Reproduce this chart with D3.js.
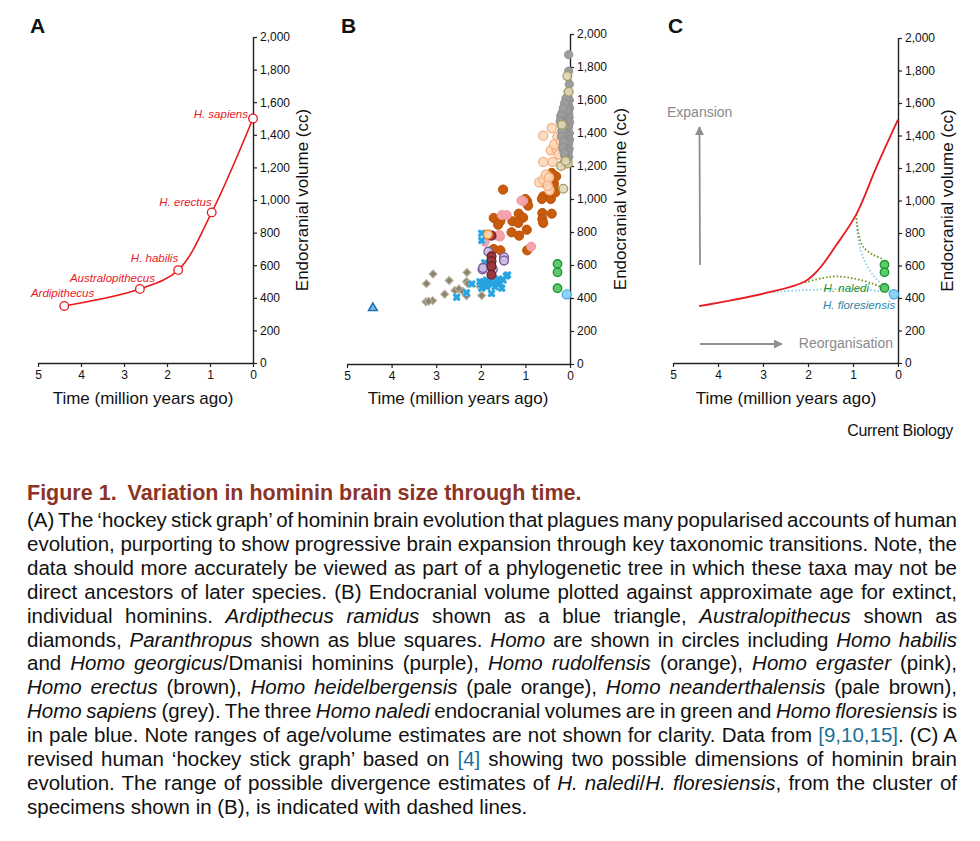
<!DOCTYPE html>
<html><head><meta charset="utf-8">
<script src="https://cdn.jsdelivr.net/npm/d3@7"></script>
<style>
html,body{margin:0;padding:0;background:#fff;}
svg text{font-family:"Liberation Sans",Arial,Helvetica,sans-serif;}
</style></head>
<body>
<script>
// ---------------- DATA ----------------
const xTicks = [5,4,3,2,1,0];
const yTicks = [0,200,400,600,800,1000,1200,1400,1600,1800,2000];

// Panel A: hockey stick (time Ma, volume cc)
const aTaxa   = ["Ardipithecus","Australopithecus","H. habilis","H. erectus","H. sapiens"];
const aTime   = [4.39, 2.63, 1.74, 0.96, 0];
const aVolume = [350, 454, 570, 924, 1500];

// Panel B: individual specimens [time Ma, volume cc]
const ardipithecus = [[4.42,345]];
const australopithecus = [[3.22,487],[3.07,545],[2.71,506],[2.31,555],[2.32,500],[2.81,423],[3.23,377],[3.08,384],[3.17,380],[2.58,445],[2.49,454],[2.32,413],[1.98,415],[2.02,470],[2.29,487],[2.40,440]];
const paranthropus = [[1.98,792],[1.98,748],[1.91,614],[1.92,592],[2.02,499],[1.94,499],[1.87,509],[1.79,499],[1.72,489],[1.64,499],[1.57,489],[1.50,509],[1.43,533],[1.53,459],[1.76,428],[1.98,459],[2.20,485],[2.54,404],[2.32,432],[1.87,468],[1.68,468],[1.40,540],[1.84,482],[1.95,480],[1.60,515]];
const erectus = [[1.50,1057],[0.96,986],[0.94,960],[0.60,1016],[0.43,1000],[0.62,915],[0.41,911],[0.62,879],[0.60,855],[1.71,885],[1.56,867],[1.29,865],[1.15,911],[1.05,887],[1.16,855],[1.61,844],[0.97,814],[1.31,798],[1.14,778],[1.71,697],[1.56,689],[0.96,689],[0.36,1061],[0.36,1093],[0.56,1097],[0.31,1137],[0.41,1158],[0.45,1107],[0.33,1040],[0.38,1075],[1.00,1000],[0.63,1000]];
const heidelbergensis = [[0.60,1384],[0.41,1430],[0.28,1376],[0.43,1295],[0.22,1320],[0.60,1225],[0.39,1225],[0.69,1101],[0.60,1117],[0.54,1147],[0.47,1130],[0.16,1208],[0.46,1053],[0.30,1300],[0.25,1270],[0.35,1330],[0.50,1080],[0.20,1350]];
const neanderthalensis = [[0.06,1745],[0.03,1650],[0.18,1450],[0.20,1200],[0.15,1062],[0.05,1215],[0.10,1230]];
const sapiens = [[0.03,1875],[0.03,1775],[0.015,1695],[0.05,1620],[0.02,1600],[0.08,1590],[0.04,1570],[0.10,1560],[0.01,1550],[0.06,1540],[0.12,1530],[0.03,1520],[0.08,1510],[0.14,1500],[0.02,1495],[0.05,1485],[0.10,1480],[0.17,1475],[0.01,1465],[0.07,1460],[0.12,1455],[0.20,1450],[0.03,1440],[0.09,1435],[0.15,1430],[0.05,1420],[0.11,1415],[0.18,1410],[0.02,1400],[0.07,1395],[0.13,1390],[0.04,1380],[0.10,1375],[0.16,1370],[0.01,1360],[0.06,1355],[0.12,1350],[0.03,1340],[0.09,1335],[0.15,1330],[0.05,1320],[0.11,1315],[0.02,1305],[0.08,1300],[0.14,1295],[0.04,1285],[0.10,1280],[0.06,1270],[0.12,1265],[0.03,1255],[0.09,1250],[0.07,1240],[0.05,1230],[0.11,1225],[0.08,1215],[0.06,1575],[0.09,1610],[0.12,1580],[0.04,1650],[0.07,1540],[0.21,1500],[0.22,1470],[0.18,1520],[0.15,1550],[0.13,1440],[0.17,1420],[0.19,1380],[0.14,1350],[0.16,1310],[0.13,1280]];
const ergaster = [[1.05,988],[1.53,903],[1.42,903],[1.57,772],[1.62,778],[0.87,711],[1.58,782],[1.91,741],[1.09,990]];
const habilisPurple = [[1.83,681],[1.48,647],[1.48,627],[1.96,574],[1.73,574],[1.95,582]];
const habilisDark = [[1.76,778],[1.76,652],[1.76,622],[1.76,592],[1.76,541]];
const rudolfensis = [[1.84,785]];
const naledi = [[0.28,606],[0.28,556],[0.28,459]];
const floresiensis = [[0.075,422]];

// Panel C
const cRedLine = [[4.42,350],[2.93,431],[2.07,502],[1.75,580],[1.39,718],[0.93,913],[0.48,1205],[0,1497]];
const cNalediUpper = [[0.93,913],[0.88,800],[0.78,718],[0.56,667],[0.33,640]];
const cFloresUpper = [[0.93,913],[0.87,738],[0.74,626],[0.48,517],[0.11,435]];
const cNalediLower = [[2.07,496],[1.67,523],[1.37,533],[0.93,517],[0.56,488],[0.33,462]];
const cFloresLower = [[2.93,435],[2.19,447],[1.37,455],[0.70,451],[0.11,431]];
const cNaledi = [[0.30,605],[0.30,559],[0.30,462]];
const cFlores = [[0.09,423]];

// Caption
const captionTitle = ["Figure 1.", "Variation in hominin brain size through time."];
const captionLines = [
"(A) The ‘hockey stick graph’ of hominin brain evolution that plagues many popularised accounts of human",
"evolution, purporting to show progressive brain expansion through key taxonomic transitions. Note, the",
"data should more accurately be viewed as part of a phylogenetic tree in which these taxa may not be",
"direct ancestors of later species. (B) Endocranial volume plotted against approximate age for extinct,",
"individual hominins. _Ardipthecus ramidus_ shown as a blue triangle, _Australopithecus_ shown as",
"diamonds, _Paranthropus_ shown as blue squares. _Homo_ are shown in circles including _Homo habilis_",
"and _Homo georgicus_/Dmanisi hominins (purple), _Homo rudolfensis_ (orange), _Homo ergaster_ (pink),",
"_Homo erectus_ (brown), _Homo heidelbergensis_ (pale orange), _Homo neanderthalensis_ (pale brown),",
"_Homo sapiens_ (grey). The three _Homo naledi_ endocranial volumes are in green and _Homo floresiensis_ is",
"in pale blue. Note ranges of age/volume estimates are not shown for clarity. Data from {[9,10,15]}. (C) A",
"revised human ‘hockey stick graph’ based on {[4]} showing two possible dimensions of hominin brain",
"evolution. The range of possible divergence estimates of _H. naledi_/_H. floresiensis_, from the cluster of",
"specimens shown in (B), is indicated with dashed lines."
];

// ---------------- DRAW ----------------
const svg = d3.select("body").append("svg").attr("width",980).attr("height",841);
const RED = "#e8191f";

function panel(letter, lx, xL, xR, yB, yT, titleX, yTitleX) {
  const x = d3.scaleLinear().domain([5,0]).range([xL,xR]);
  const y = d3.scaleLinear().domain([0,2000]).range([yB,yT]);
  const g = svg.append("g");
  const ax = g.append("g").attr("transform",`translate(0,${yB})`)
    .call(d3.axisBottom(x).tickValues(xTicks).tickFormat(d3.format("d")).tickSize(4).tickSizeOuter(0).tickPadding(3));
  const ay = g.append("g").attr("transform",`translate(${xR},0)`)
    .call(d3.axisRight(y).tickValues(yTicks).tickFormat(d3.format(",")).tickSize(4).tickSizeOuter(0).tickPadding(3));
  [ax,ay].forEach(a=>{
    a.select(".domain").attr("stroke","#222").attr("stroke-width",1.4);
    a.selectAll(".tick line").attr("stroke","#222").attr("stroke-width",1.2);
    a.selectAll(".tick text").attr("fill","#111").style("font-size","12px");
  });
  g.append("text").attr("x",titleX).attr("y",404).attr("text-anchor","middle")
    .style("font-size","17px").attr("fill","#111").text("Time (million years ago)");
  g.append("text").attr("transform",`translate(${yTitleX+6},${(yB+yT)/2}) rotate(-90)`)
    .attr("text-anchor","middle").style("font-size","17px").attr("fill","#111").text("Endocranial volume (cc)");
  g.append("text").attr("x",lx).attr("y",33).style("font-size","21px").style("font-weight","bold")
    .attr("fill","#111").text(letter);
  return {x,y,g};
}

// Panel A
const A = panel("A", 30, 38, 253, 363, 37, 143, 302);
const aPts = aTime.map((t,i)=>[t,aVolume[i]]);
A.g.append("path").datum(aPts)
  .attr("d", d3.line().x(d=>A.x(d[0])).y(d=>A.y(d[1])).curve(d3.curveCatmullRom.alpha(0.5)))
  .attr("fill","none").attr("stroke",RED).attr("stroke-width",1.6);
A.g.selectAll("circle.m").data(aPts).join("circle")
  .attr("cx",d=>A.x(d[0])).attr("cy",d=>A.y(d[1])).attr("r",4.3)
  .attr("fill","#fff").attr("stroke",RED).attr("stroke-width",1.3);
// label offsets: [end-x offset, baseline offset] relative to marker
const aLabelOff = [[30,-9],[15,-7],[0,-8],[0,-6],[-5,-1]];
A.g.selectAll("text.lab").data(aTaxa).join("text")
  .attr("x",(d,i)=>A.x(aTime[i])+aLabelOff[i][0])
  .attr("y",(d,i)=>A.y(aVolume[i])+aLabelOff[i][1])
  .attr("text-anchor","end").style("font-size","11.5px").style("font-style","italic")
  .attr("fill",RED).text(d=>d);

// Panel B
const B = panel("B", 341, 347, 570, 364, 34, 458, 620);
function circles(data, r, fill, stroke, sw, op) {
  B.g.append("g").selectAll("circle").data(data).join("circle")
    .attr("cx",d=>B.x(d[0])).attr("cy",d=>B.y(d[1])).attr("r",r)
    .attr("fill",fill).attr("stroke",stroke).attr("stroke-width",sw).attr("fill-opacity",op);
}
B.g.append("g").selectAll("path").data(australopithecus).join("path")
  .attr("d", d3.symbol(d3.symbolSquare, 30)())
  .attr("transform",d=>`translate(${B.x(d[0])},${B.y(d[1])}) rotate(45)`)
  .attr("fill","#8a826d").attr("stroke","#b6ae98").attr("stroke-width",1.2);
B.g.append("g").selectAll("path").data(ardipithecus).join("path")
  .attr("d", d3.symbol(d3.symbolTriangle, 34)())
  .attr("transform",d=>`translate(${B.x(d[0])},${B.y(d[1])+1})`)
  .attr("fill","#6fb6e6").attr("stroke","#1d6aa8").attr("stroke-width",1.4);
circles(erectus, 4.6, "#c95b0c", "#b9530a", 1, 1);
circles(heidelbergensis, 4.6, "#fcd8bb", "#f6ad78", 1.2, 0.9);
circles(sapiens, 4.2, "#9d9d9d", "#8b8b8b", 0.8, 1);
circles(neanderthalensis, 4.4, "#e0d7b8", "#a99b5e", 1.3, 0.9);
circles(ergaster, 4.5, "#f5a4ac", "#f09aa3", 1, 1);
const pg = B.g.append("g");
pg.selectAll("rect").data(paranthropus).join("rect")
  .attr("x",d=>B.x(d[0])-3.3).attr("y",d=>B.y(d[1])-3.3).attr("width",6.6).attr("height",6.6)
  .attr("fill","#a6dbf5");
pg.selectAll("path").data(paranthropus).join("path")
  .attr("d", d3.symbol(d3.symbolCross, 40)())
  .attr("transform",d=>`translate(${B.x(d[0])},${B.y(d[1])}) rotate(45)`)
  .attr("fill","#27a3e0");
circles(habilisPurple, 4.4, "#cdbde0", "#7a5a9e", 1.4, 0.9);
circles(habilisDark, 4.4, "#9a3a40", "#6e1f25", 1.3, 1);
circles(rudolfensis, 4.4, "#fbd5ae", "#ef8622", 1.5, 1);
circles(naledi, 4.2, "#62c86e", "#179a2f", 1.4, 1);
circles(floresiensis, 4.6, "#90d2f4", "#3ea6e2", 1.2, 1);

// Panel C
const C = panel("C", 668, 673, 898, 363, 38, 786, 947);
const lineC = d3.line().x(d=>C.x(d[0])).y(d=>C.y(d[1])).curve(d3.curveCatmullRom.alpha(0.5));
const dots = [[cFloresLower,"#8fcde6"],[cFloresUpper,"#8fcde6"],[cNalediLower,"#6f9528"],[cNalediUpper,"#6f9528"]];
dots.forEach(([d,c])=>{
  C.g.append("path").datum(d).attr("d",lineC).attr("fill","none").attr("stroke",c)
    .attr("stroke-width",1.8).attr("stroke-dasharray","1.6 2").attr("stroke-linecap","butt");
});
C.g.append("path").datum(cRedLine).attr("d",lineC).attr("fill","none").attr("stroke",RED).attr("stroke-width",1.8);
C.g.selectAll("circle.n").data(cNaledi).join("circle")
  .attr("cx",d=>C.x(d[0])).attr("cy",d=>C.y(d[1])).attr("r",4.2)
  .attr("fill","#62c86e").attr("stroke","#179a2f").attr("stroke-width",1.4);
C.g.selectAll("circle.f").data(cFlores).join("circle")
  .attr("cx",d=>C.x(d[0])).attr("cy",d=>C.y(d[1])).attr("r",4.6)
  .attr("fill","#90d2f4").attr("stroke","#3ea6e2").attr("stroke-width",1.2);
C.g.append("text").attr("x",869).attr("y",292).attr("text-anchor","end")
  .style("font-size","11.5px").style("font-style","italic").attr("fill","#1f8f2a").text("H. naledi");
C.g.append("text").attr("x",823).attr("y",309)
  .style("font-size","11.5px").style("font-style","italic").attr("fill","#2b86ad").text("H. floresiensis");
const defs = svg.append("defs");
defs.append("marker").attr("id","ah").attr("viewBox","0 0 10 10").attr("refX",9).attr("refY",5)
  .attr("markerWidth",5).attr("markerHeight",5).attr("orient","auto")
  .append("path").attr("d","M0,0 L10,5 L0,10 z").attr("fill","#8f8f8f");
C.g.append("line").attr("x1",700).attr("y1",265).attr("x2",699.5).attr("y2",127)
  .attr("stroke","#8f8f8f").attr("stroke-width",1.8).attr("marker-end","url(#ah)");
C.g.append("line").attr("x1",700).attr("y1",344).attr("x2",782).attr("y2",344)
  .attr("stroke","#8f8f8f").attr("stroke-width",1.8).attr("marker-end","url(#ah)");
C.g.append("text").attr("x",667).attr("y",117).style("font-size","14px").attr("fill","#8a8a8a").text("Expansion");
C.g.append("text").attr("x",893).attr("y",348).attr("text-anchor","end").style("font-size","14px").attr("fill","#8a8a8a").text("Reorganisation");
svg.append("text").attr("x",953).attr("y",436).attr("text-anchor","end")
  .style("font-size","16px").style("letter-spacing","-0.3px").attr("fill","#111").text("Current Biology");

// Caption
const capX = 27, capW = 930;
const tt = svg.append("text").attr("x",capX).attr("y",500).style("font-size","21.5px")
  .style("font-weight","bold").attr("fill","#8b3426");
tt.append("tspan").text(captionTitle[0]);
tt.append("tspan").attr("dx",11).text(captionTitle[1]);

captionLines.forEach((line,i)=>{
  const t = svg.append("text").attr("x",capX).attr("y",527+i*23.9)
    .style("font-size","20.5px").attr("fill","#111");
  line.split(/(_[^_]+_|\{[^}]+\})/).filter(s=>s.length).forEach(seg=>{
    if (seg[0]==="_") t.append("tspan").style("font-style","italic").text(seg.slice(1,-1));
    else if (seg[0]==="{") t.append("tspan").attr("fill","#1d6f98").text(seg.slice(1,-1));
    else t.append("tspan").text(seg);
  });
  if (i < captionLines.length-1) {
    const w = t.node().getComputedTextLength();
    const n = (line.match(/ /g)||[]).length;
    t.attr("word-spacing", (capW - w)/n);
  }
});
</script>
</body></html>
